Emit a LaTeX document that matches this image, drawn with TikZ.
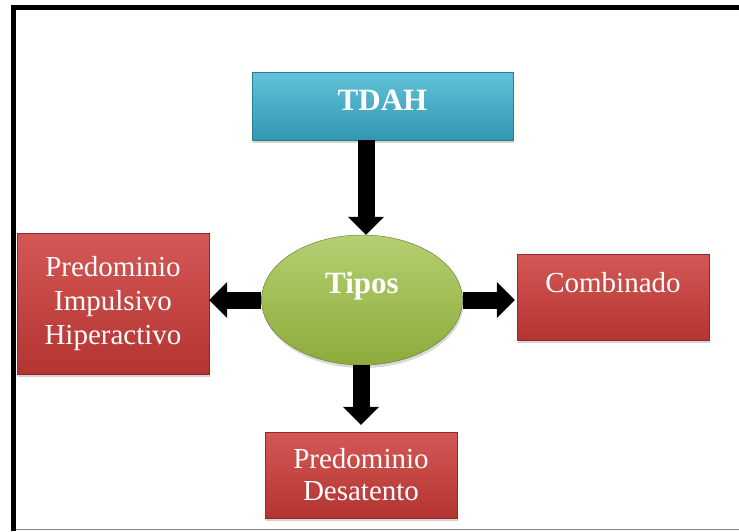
\documentclass[tikz,border=0pt]{standalone}
\usepackage{fontspec}
\setmainfont{Liberation Serif}
\usetikzlibrary{arrows.meta,shapes,shadows}
\definecolor{tdahblue}{HTML}{3AB2D0}
\definecolor{tiposgreen}{HTML}{9CBF42}
\definecolor{boxred}{HTML}{CC3B38}
\tikzstyle{bevelbox}=[rectangle, inner sep=0pt, text=white, align=center, font=\fontsize{29}{34}\selectfont, drop shadow={opacity=0.35, shadow xshift=1pt, shadow yshift=-3pt}]
\tikzstyle{redbox}=[bevelbox, top color=boxred!85!white, bottom color=boxred!88!black, draw=boxred!70!black, minimum width=192pt]
\tikzstyle{fatarrow}=[line width=17pt, -{Triangle[width=35pt,length=18pt]}]

\begin{document}
\begin{tikzpicture}[x=1pt,y=-1pt]
        \useasboundingbox (0,0) rectangle (739,531);
        % frame
        \draw[line width=5pt] (13.5,531) -- (13.5,7.5) -- (739,7.5);
        \draw[gray, line width=1.5pt] (16,529.5) -- (739,529.5);
        \node[bevelbox, top color=tdahblue!80!white, bottom color=tdahblue!85!black, draw=tdahblue!70!black, minimum width=261pt, minimum height=68pt, font=\bfseries\fontsize{31}{34}\selectfont, text height=22pt, text depth=14pt] (tdah) at (382.5,106) {TDAH};
        \node[ellipse, inner sep=0pt, minimum width=201pt, minimum height=130pt, top color=tiposgreen!75!white, bottom color=tiposgreen!90!black, draw=tiposgreen!60!black, text=white, font=\bfseries\fontsize{31}{34}\selectfont, text height=21pt, text depth=35pt, drop shadow={opacity=0.3, shadow xshift=1pt, shadow yshift=-3pt}] (tipos) at (362,300) {Tipos};
        \node[redbox, minimum height=141pt] (imp) at (113,303.5) {Predominio\\Impulsivo\\Hiperactivo};
        \node[redbox, minimum height=86pt, text height=20pt, text depth=30pt] (comb) at (613,297) {Combinado};
        \node[redbox, minimum height=86pt, font=\fontsize{29}{32}\selectfont] (desat) at (361,475) {Predominio\\Desatento};
        % arrows
        \draw[fatarrow] ([xshift=4pt]tipos.north |- tdah.south) -- ([xshift=4pt]tipos.north);
        \draw[fatarrow] (tipos.west) -- (imp.east |- tipos.west);
        \draw[fatarrow, shorten >=2pt] (tipos.east) -- (comb.west |- tipos.east);
        \draw[fatarrow, shorten >=7pt] (desat.north |- tipos.south) -- (desat.north);
    \end{tikzpicture}
\end{document}
